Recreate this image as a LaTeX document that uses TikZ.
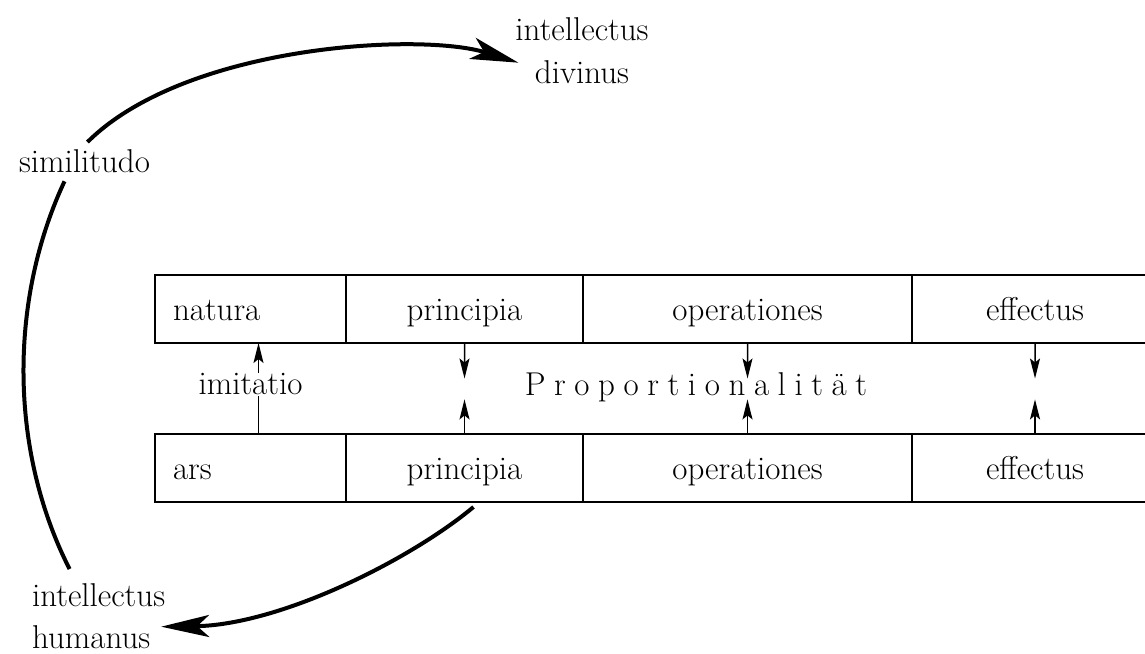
\documentclass[tikz,border=0pt]{standalone}
\usepackage{fontspec}
\usetikzlibrary{positioning, arrows.meta, calc}
\tikzset{
x=0.5pt, y=-0.5pt, % one unit = one pixel of the page, y runs down
every node/.style={font=\fontsize{16.5pt}{21pt}\selectfont},
feld/.style={draw, line width=0.7pt, inner sep=0pt, outer sep=0pt, text height=22.5pt, text depth=11.5pt}, % one cell of a row
links/.style={feld, inner xsep=9pt, align=left}, % first cell, text at the left
pfeil/.style={-{Stealth[length=10pt, width=5pt, inset=2pt]}, line width=0.75pt}, % small arrows between the rows
bogen/.style={line width=2pt}, % the big curves
bogenpfeil/.style={bogen, -{Stealth[length=24pt, width=11pt, inset=6pt]}},
node distance=0pt, % cells touch each other
}
% letter spaced text
\newcommand\gesperrt[1]{\sperrloop#1\relax\unkern}
\def\sperrloop#1{\ifx\relax#1\else#1\kern4.3pt\expandafter\sperrloop\fi}
\begin{document}
\begin{tikzpicture}
\clip (0,0) rectangle (1145,653);
% upper row
\node[links, text width=77.5pt] (nat) at (250.5,309) {natura};
\node[feld, minimum width=118.5pt, right=of nat] (pri1) {principia};
\node[feld, minimum width=164.5pt, right=of pri1] (ope1) {operationes};
\node[feld, minimum width=123pt, right=of ope1] (eff1) {effectus};
% lower row
\node[links, text width=77.5pt, below=45.5pt of nat] (ars) {ars};
\node[feld, minimum width=118.5pt, right=of ars] (pri2) {principia};
\node[feld, minimum width=164.5pt, right=of pri2] (ope2) {operationes};
\node[feld, minimum width=123pt, right=of ope2] (eff2) {effectus};
% between the rows
\draw[pfeil] ($(ars.north)+(8,0)$) -- ($(nat.south)+(8,0)$);
\node[fill=white, inner sep=0.5pt, anchor=base] (imit) at ($(nat.south)!0.57!(ars.north)$) {imitatio};
\foreach \o/\u in {pri1/pri2, ope1/ope2, eff1/eff2} {
    \draw[pfeil] (\o.south) -- ($(\o.south)!0.39!(\u.north)$);
    \draw[pfeil] (\u.north) -- ($(\o.south)!0.62!(\u.north)$);
}
\node[anchor=base] (prop) at (696,395) {\gesperrt{Proportionalität}};
% labels round the table
\node[anchor=base, align=center] (idiv) at (582,83) {intellectus\\divinus};
\node[anchor=base] (sim) at (84.5,172) {similitudo};
\node[anchor=base west, align=left] (ihum) at (25,648) {intellectus\\humanus};
% curves
\draw[bogenpfeil] ($(sim.north)+(3,0)$) .. controls (185,45) and (420,32) .. ($(idiv.west)+(10,12)$);
\draw[bogen] ($(sim.south)+(-20,2)$) .. controls (9,300) and (9,450) .. ($(ihum.north)+(-29,-7)$);
\draw[bogenpfeil] ($(pri2.south)+(9,5)$) .. controls (410,560) and (280,625) .. ($(ihum.east)+(-11,11)$);
\end{tikzpicture}
\end{document}
